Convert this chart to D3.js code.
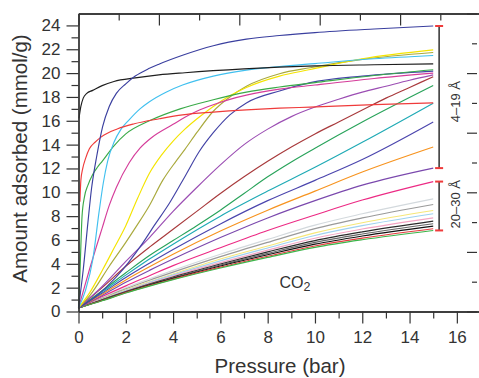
<!DOCTYPE html>
<html>
<head>
<meta charset="utf-8">
<script src="https://cdnjs.cloudflare.com/ajax/libs/d3/7.8.5/d3.min.js"></script>
<style>
  body { margin: 0; background: #fff; }
  svg { display: block; font-family: "Liberation Sans", Arial, sans-serif; }
  .axis .domain { stroke: #333; stroke-width: 1.3; }
  .axis line { stroke: #333; stroke-width: 1.2; }
  .axis text { fill: #333; font-size: 17px; font-family: "Liberation Sans", Arial, sans-serif; }
</style>
</head>
<body>
<svg id="chart" width="479" height="378"></svg>
<script>
// tick values
const xMajor = [0, 2, 4, 6, 8, 10, 12, 14, 16];
const xMinor = [1, 3, 5, 7, 9, 11, 13, 15];
const yMajor = [0, 2, 4, 6, 8, 10, 12, 14, 16, 18, 20, 22, 24];
const yMinor = [1, 3, 5, 7, 9, 11, 13, 15, 17, 19, 21, 23];
const frameMajor = [0, 2, 4, 6, 8, 10];
const frameMinor = [1, 3, 5, 7, 9];

// isotherms, [pressure (bar), uptake (mmol/g)]
// 4-19 A pores
const darkBlueTop = [[0,0.3],[0.2,3.5],[0.4,7.5],[0.55,10.3],[0.67,11.9],[0.75,12.8],[0.9,14.4],[1.02,15.5],[1.3,17.2],[1.6,18.3],[2,19.1],[2.4,19.75],[3,20.4],[3.4,20.75],[4.4,21.5],[5.7,22.3],[7.1,22.85],[8.5,23.15],[10,23.4],[12.5,23.7],[15,23.95]];
const yellowLine = [[0,0.3],[0.46,1.54],[1.02,3.5],[1.5,5.3],[2,7.2],[2.5,9.5],[3,11.6],[3.5,13.1],[4,14.3],[4.5,15.3],[5,16.15],[5.7,17.2],[6.4,18.1],[7.1,18.8],[8.5,19.75],[9.8,20.3],[12,21.2],[15,21.95]];
const oliveLine = [[0,0.3],[0.5,1.4],[1.3,3.8],[2,5.8],[2.43,7.1],[3,8.9],[3.56,11.0],[4.12,12.6],[4.5,13.6],[5,15.0],[5.7,16.8],[6.4,18.0],[7.1,18.9],[8.5,19.95],[9.8,20.45],[12,21.15],[15,21.73]];
const cyanLine = [[0,0.3],[0.3,1.8],[0.6,4.3],[0.88,8.5],[1.05,10.8],[1.23,12.6],[1.5,14.2],[1.8,15.3],[2.15,16.1],[2.6,17.0],[3,17.6],[3.7,18.4],[4.4,19.0],[5.7,19.75],[7.1,20.25],[8.5,20.55],[10,20.8],[12.5,21.2],[15,21.48]];
const blackLine = [[0.02,16.2],[0.1,17.2],[0.2,17.9],[0.35,18.3],[0.6,18.55],[1,18.95],[1.5,19.3],[2.4,19.6],[3.4,19.85],[4.5,20.03],[7,20.35],[10,20.6],[12.5,20.7],[15,20.78]];
const greenSteep = [[0,0.3],[0.05,2.5],[0.1,5.5],[0.15,8.0],[0.25,9.6],[0.4,10.6],[0.6,11.5],[0.8,12.1],[1,12.6],[1.5,13.9],[2,14.9],[3,16.0],[4.3,17.0],[5.7,17.76],[7.1,18.4],[8.5,18.83],[10,19.2],[12.5,19.8],[15,20.28]];
const darkBlue2 = [[0,0.3],[0.75,1.3],[1.6,2.9],[2.7,5.7],[3.2,7.2],[3.85,9.1],[4.55,11.5],[5.1,13.4],[5.7,15.0],[6.4,16.5],[7.1,17.5],[8.5,18.5],[9.8,19.2],[12,19.75],[15,20.17]];
const magentaLine = [[0,0.3],[0.46,3.5],[1,7.0],[1.3,8.9],[1.6,10.4],[2.15,12.5],[2.6,13.7],[3.1,14.6],[4,15.7],[4.5,16.3],[5,16.8],[5.7,17.35],[6.4,17.8],[7.1,18.15],[8.5,18.65],[10,19.0],[12.5,19.55],[15,20.0]];
const purpleLine = [[0,0.3],[1,2.1],[2,4.2],[3,6.2],[4,8.4],[5,10.4],[6,12.3],[7,14.0],[8,15.3],[9,16.35],[10,17.15],[11,17.8],[12,18.4],[13,18.9],[14,19.4],[15,19.85]];
const brownLine = [[0,0.3],[1,2.0],[2,3.8],[3,5.4],[4,6.9],[5,8.4],[6,9.9],[7,11.3],[8,12.6],[9,13.8],[10,14.9],[11,15.9],[12,16.9],[13,17.9],[14,18.8],[15,19.7]];
const green2 = [[0,0.3],[1,1.75],[2,3.25],[3,4.7],[4,5.95],[5,7.2],[6,8.5],[7,9.9],[8,11.3],[9,12.55],[10,13.7],[12,15.9],[15,18.96]];
const redLine = [[0.06,9.2],[0.1,11.0],[0.18,12.0],[0.3,12.85],[0.46,13.65],[0.7,14.2],[0.95,14.63],[1.66,15.33],[2.36,15.75],[3.42,16.17],[4.4,16.5],[5.7,16.73],[7.1,16.92],[8.5,17.06],[9.8,17.15],[12.5,17.35],[15,17.5]];
const tealLine = [[0,0.3],[1,1.65],[2,3.05],[3,4.4],[4,5.65],[6,8.0],[8,10.1],[10,12.1],[12,14.2],[15,17.48]];
const darkBlue3 = [[0,0.3],[1,1.55],[2,2.85],[3,4.05],[4,5.2],[6,7.35],[8,9.3],[10,11.0],[12,12.75],[15,15.9]];
const orangeLine = [[0,0.3],[1,1.45],[2,2.65],[3,3.75],[4,4.8],[6,6.75],[8,8.5],[10,10.1],[12,11.7],[15,13.8]];
const purple2 = [[0,0.3],[1,1.35],[2,2.45],[3,3.45],[4,4.4],[6,6.2],[8,7.85],[10,9.3],[12,10.6],[15,12.03]];
// 20-30 A pores
const pinkLine = [[0,0.3],[1,1.25],[2,2.15],[3,3.0],[4,3.85],[6,5.35],[8,6.8],[10,8.1],[12,9.35],[15,10.9]];
const lightGray = [[0,0.3],[1,1.15],[2,2.0],[3,2.75],[4,3.45],[6,4.8],[8,6.05],[10,7.25],[12,8.2],[15,9.45]];
const grayLine = [[0,0.3],[1,1.1],[2,1.9],[3,2.62],[4,3.3],[6,4.6],[8,5.8],[10,6.95],[12,7.85],[15,8.98]];
const lightYellow = [[0,0.3],[1,1.05],[2,1.82],[3,2.5],[4,3.15],[6,4.4],[8,5.5],[10,6.6],[12,7.45],[15,8.47]];
const lightBlue = [[0,0.3],[1,1.02],[2,1.77],[3,2.44],[4,3.07],[6,4.25],[8,5.33],[10,6.38],[12,7.2],[15,8.2]];
const lightPink = [[0,0.3],[1,1.0],[2,1.72],[3,2.37],[4,2.98],[6,4.1],[8,5.15],[10,6.15],[12,6.92],[15,7.86]];
const blackA = [[0,0.3],[1,0.98],[2,1.68],[3,2.31],[4,2.9],[6,3.98],[8,5.0],[10,5.95],[12,6.68],[15,7.58]];
const darkGray = [[0,0.3],[1,0.96],[2,1.65],[3,2.26],[4,2.84],[6,3.9],[8,4.88],[10,5.8],[12,6.5],[15,7.36]];
const blackB = [[0,0.3],[1,0.94],[2,1.62],[3,2.22],[4,2.78],[6,3.82],[8,4.76],[10,5.65],[12,6.33],[15,7.16]];
const redB = [[0,0.3],[1,0.92],[2,1.58],[3,2.17],[4,2.72],[6,3.72],[8,4.63],[10,5.5],[12,6.15],[15,6.94]];
const greenB = [[0,0.3],[1,0.9],[2,1.55],[3,2.13],[4,2.67],[6,3.65],[8,4.54],[10,5.38],[12,6.02],[15,6.8]];

const wideGroup = [
  {values: lightGray, color: "#d3d9dd"},
  {values: grayLine, color: "#9a9a9a"},
  {values: lightYellow, color: "#f6e77a"},
  {values: lightBlue, color: "#9fd2f0"},
  {values: lightPink, color: "#f3a5c4"},
  {values: blackA, color: "#2b2b2b"},
  {values: darkGray, color: "#666"},
  {values: blackB, color: "#111"},
  {values: redB, color: "#e53b3f"},
  {values: greenB, color: "#3cb54a"},
  {values: pinkLine, color: "#ec2a84"}
];
const narrowGroup = [
  {values: purple2, color: "#7a48ad"},
  {values: orangeLine, color: "#f7931e"},
  {values: darkBlue3, color: "#4b45ad"},
  {values: tealLine, color: "#1eaab5"},
  {values: green2, color: "#28a35a"},
  {values: brownLine, color: "#a8393b"},
  {values: purpleLine, color: "#9b4db3"},
  {values: darkBlue2, color: "#4343a6"},
  {values: oliveLine, color: "#a9a93c"},
  {values: yellowLine, color: "#f4e400"},
  {values: magentaLine, color: "#d53d9a"},
  {values: greenSteep, color: "#3aaa48"},
  {values: cyanLine, color: "#41c0ef"},
  {values: redLine, color: "#ef3b3b"},
  {values: blackLine, color: "#1e1e1e"},
  {values: darkBlueTop, color: "#3a3f9f"}
];

const bracketP = 15.25;

const svg = d3.select("#chart");
const x = d3.scaleLinear().domain([0, 17]).range([78.5, 480.5]);
const y = d3.scaleLinear().domain([0, 25]).range([311.5, 13.5]);
const xTop = d3.scaleLinear().domain([0, 10]).range(x.range());
const yRight = d3.scaleLinear().domain([0, 10]).range(y.range());

const line = d3.line()
  .x(d => x(d[0]))
  .y(d => y(d[1]))
  .curve(d3.curveMonotoneX);

svg.append("g")
  .selectAll("path")
  .data(wideGroup.concat(narrowGroup))
  .join("path")
  .attr("d", d => line(d.values))
  .attr("fill", "none")
  .attr("stroke", d => d.color)
  .attr("stroke-width", 1.15);

// axes
svg.append("g").attr("class", "axis")
  .attr("transform", `translate(0,${y(0)})`)
  .call(d3.axisBottom(x).tickValues(xMinor).tickSize(7).tickSizeOuter(0).tickFormat(""));
svg.append("g").attr("class", "axis")
  .attr("transform", `translate(0,${y(0)})`)
  .call(d3.axisBottom(x).tickValues(xMajor).tickSize(12).tickPadding(7).tickSizeOuter(0));

svg.append("g").attr("class", "axis")
  .attr("transform", `translate(${x(0)},0)`)
  .call(d3.axisLeft(y).tickValues(yMinor).tickSize(7).tickSizeOuter(0).tickFormat(""));
svg.append("g").attr("class", "axis")
  .attr("transform", `translate(${x(0)},0)`)
  .call(d3.axisLeft(y).tickValues(yMajor).tickSize(12).tickPadding(6).tickSizeOuter(0));

svg.append("g").attr("class", "axis")
  .attr("transform", `translate(0,${y(25)})`)
  .call(d3.axisTop(xTop).tickValues(frameMinor).tickSize(-7).tickSizeOuter(0).tickFormat(""));
svg.append("g").attr("class", "axis")
  .attr("transform", `translate(0,${y(25)})`)
  .call(d3.axisTop(xTop).tickValues(frameMajor).tickSize(-12).tickSizeOuter(0).tickFormat(""));

const rightMinor = svg.append("g").attr("class", "axis")
  .attr("transform", "translate(477,0)")
  .call(d3.axisRight(yRight).tickValues(frameMinor).tickSize(-5).tickFormat(""));
rightMinor.select(".domain").remove();
const rightMajor = svg.append("g").attr("class", "axis")
  .attr("transform", "translate(477,0)")
  .call(d3.axisRight(yRight).tickValues(frameMajor).tickSize(-10).tickFormat(""));
rightMajor.select(".domain").remove();

// axis titles
svg.append("text")
  .attr("x", 280).attr("y", 372.5)
  .attr("text-anchor", "middle")
  .attr("fill", "#333").attr("font-size", 20.5)
  .text("Pressure (bar)");
svg.append("text")
  .attr("transform", "translate(27,158.5) rotate(-90)")
  .attr("text-anchor", "middle")
  .attr("fill", "#333").attr("font-size", 20.5)
  .text("Amount adsorbed (mmol/g)");

// CO2 label
const co2 = svg.append("text")
  .attr("x", x(8.5)).attr("y", y(1.96))
  .attr("fill", "#333").attr("font-size", 16);
co2.append("tspan").text("CO");
co2.append("tspan").attr("dy", 3).attr("font-size", 12.5).text("2");

// pore-size brackets
const brackets = [
  {group: narrowGroup, label: "4\u201319 \u00c5", labelAt: 17.6},
  {group: wideGroup, label: "20\u201330 \u00c5", labelAt: 9.0}
];
brackets.forEach(b => {
  const ends = b.group.map(s => s.values[s.values.length - 1][1]);
  const top = d3.max(ends), bottom = d3.min(ends);
  const bx = x(bracketP);
  svg.append("line")
    .attr("x1", bx).attr("x2", bx)
    .attr("y1", y(top)).attr("y2", y(bottom))
    .attr("stroke", "#222").attr("stroke-width", 1.4);
  [top, bottom].forEach(v => {
    svg.append("line")
      .attr("x1", bx - 4).attr("x2", bx + 4)
      .attr("y1", y(v)).attr("y2", y(v))
      .attr("stroke", "#ef3b3b").attr("stroke-width", 2);
  });
  svg.append("text")
    .attr("transform", `translate(${bx + 20.5},${y(b.labelAt)}) rotate(-90)`)
    .attr("text-anchor", "middle")
    .attr("fill", "#333").attr("font-size", 13)
    .text(b.label);
});
</script>
</body>
</html>
